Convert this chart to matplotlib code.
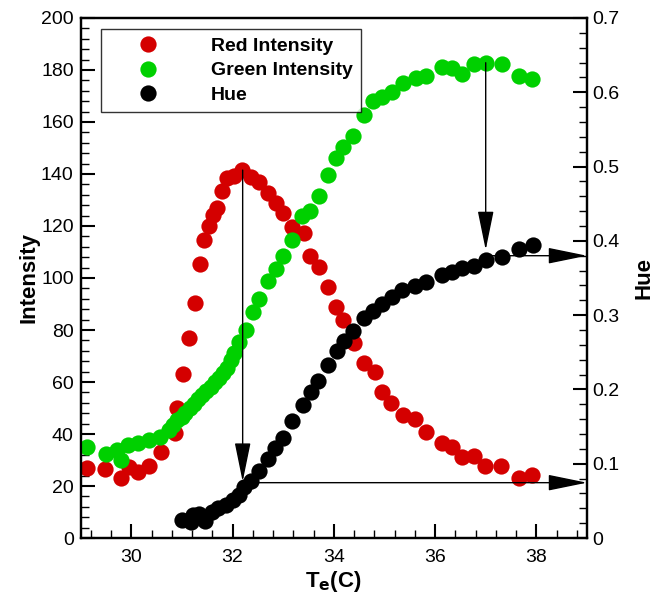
import matplotlib
matplotlib.use("Agg")
import matplotlib.pyplot as plt
from matplotlib.ticker import MultipleLocator, FixedLocator, FixedFormatter

plt.rcParams['font.family'] = ['Liberation Sans', 'DejaVu Sans']

# ---------------- data ----------------
red_T = [29.13, 29.49, 29.79, 29.95, 30.14, 30.35, 30.58, 30.86, 30.91, 31.03, 31.14,
         31.25, 31.36, 31.44, 31.54, 31.62, 31.69, 31.79, 31.90, 32.03, 32.18, 32.36,
         32.52, 32.71, 32.85, 32.99, 33.18, 33.41, 33.53, 33.70, 33.88, 34.05, 34.19,
         34.40, 34.60, 34.81, 34.96, 35.13, 35.36, 35.61, 35.83, 36.13, 36.33, 36.54,
         36.77, 36.99, 37.31, 37.66, 37.92]
red_I = [27.0, 26.4, 23.0, 27.4, 25.5, 27.8, 33.2, 40.3, 50.1, 63.0, 77.0,
         90.5, 105.5, 114.5, 119.9, 124.2, 126.8, 133.3, 138.3, 139.2, 141.5, 139.0,
         137.0, 132.8, 128.7, 124.9, 119.5, 117.2, 108.5, 104.3, 96.7, 89.0, 83.8,
         74.9, 67.4, 63.8, 56.3, 51.9, 47.3, 45.6, 40.7, 36.7, 34.9, 31.3,
         31.5, 27.7, 27.8, 23.0, 24.2]

green_T = [29.13, 29.51, 29.72, 29.79, 29.94, 30.14, 30.35, 30.57, 30.75, 30.83, 30.91,
           31.00, 31.07, 31.15, 31.24, 31.32, 31.40, 31.48, 31.57, 31.65, 31.73, 31.82,
           31.90, 31.97, 32.03, 32.13, 32.26, 32.40, 32.52, 32.70, 32.85, 33.00, 33.18,
           33.37, 33.53, 33.70, 33.88, 34.04, 34.18, 34.38, 34.60, 34.78, 34.96, 35.14,
           35.36, 35.62, 35.83, 36.13, 36.33, 36.54, 36.77, 37.00, 37.32, 37.66, 37.91]
green_I = [35.1, 32.3, 33.8, 30.0, 35.8, 36.7, 37.7, 39.0, 41.5, 43.5, 45.4,
           46.5, 48.0, 50.0, 51.5, 53.5, 55.0, 56.5, 58.0, 60.0, 61.5, 63.5,
           65.5, 68.5, 71.0, 75.3, 80.0, 87.0, 92.0, 98.9, 103.5, 108.4, 114.5,
           124.0, 125.7, 131.5, 139.6, 146.3, 150.4, 154.8, 162.5, 168.2, 169.5, 171.7,
           175.1, 176.8, 177.7, 181.3, 180.7, 178.5, 182.2, 182.8, 182.3, 177.8, 176.5]

hue_T = [31.01, 31.17, 31.21, 31.34, 31.46, 31.60, 31.72, 31.87, 32.01, 32.13, 32.23,
         32.36, 32.52, 32.70, 32.84, 32.99, 33.17, 33.39, 33.54, 33.68, 33.88, 34.06,
         34.20, 34.38, 34.60, 34.78, 34.95, 35.14, 35.35, 35.61, 35.83, 36.13, 36.33,
         36.54, 36.77, 37.00, 37.32, 37.66, 37.93]
hue_H = [0.024, 0.022, 0.031, 0.033, 0.023, 0.035, 0.040, 0.044, 0.051, 0.058, 0.069,
         0.077, 0.090, 0.106, 0.121, 0.135, 0.157, 0.179, 0.197, 0.211, 0.233, 0.252,
         0.265, 0.278, 0.296, 0.306, 0.315, 0.324, 0.334, 0.339, 0.344, 0.354, 0.358,
         0.363, 0.366, 0.374, 0.378, 0.389, 0.394]

x_ticks = [30, 32, 34, 36, 38]
x_tick_labels = ['30', '32', '34', '36', '38']
left_ticks = [0, 20, 40, 60, 80, 100, 120, 140, 160, 180, 200]
left_tick_labels = ['0', '20', '40', '60', '80', '100', '120', '140', '160', '180', '200']
right_ticks = [0, 0.1, 0.2, 0.3, 0.4, 0.5, 0.6, 0.7]
right_tick_labels = ['0', '0.1', '0.2', '0.3', '0.4', '0.5', '0.6', '0.7']

series_labels = ['Red Intensity', 'Green Intensity', 'Hue']

# arrows: vertical (x, top, tip) in intensity units ; horizontal at hue level
arrow1_x, arrow1_top, arrow1_tip = 32.2, 141.5, 21.7
arrow1_h_hue = 0.0745
arrow2_x, arrow2_top, arrow2_tip = 37.0, 182.8, 110.8
arrow2_h_hue = 0.380

# ---------------- figure ----------------
fig = plt.figure(figsize=(6.61, 5.99), dpi=100)
ax = fig.add_axes([0.122, 0.1018, 0.766, 0.8682])
ax2 = ax.twinx()

red_c = '#d40000'
green_c = '#00d000'
ms = 11.7

l1, = ax.plot(red_T, red_I, linestyle='none', marker='o', ms=ms, mew=0, color=red_c, zorder=2)
l2, = ax.plot(green_T, green_I, linestyle='none', marker='o', ms=ms, mew=0, color=green_c, zorder=3)
l3, = ax2.plot(hue_T, hue_H, linestyle='none', marker='o', ms=ms, mew=0, color='black', zorder=3)

ax.set_xlim(29, 39)
ax.set_ylim(0, 200)
ax2.set_ylim(0, 0.7)

ax.xaxis.set_major_locator(FixedLocator(x_ticks))
ax.xaxis.set_major_formatter(FixedFormatter(x_tick_labels))
ax.xaxis.set_minor_locator(MultipleLocator(0.4))
ax.yaxis.set_major_locator(FixedLocator(left_ticks))
ax.yaxis.set_major_formatter(FixedFormatter(left_tick_labels))
ax.yaxis.set_minor_locator(MultipleLocator(4))
ax2.yaxis.set_major_locator(FixedLocator(right_ticks))
ax2.yaxis.set_major_formatter(FixedFormatter(right_tick_labels))
ax2.yaxis.set_minor_locator(MultipleLocator(0.02))

for a in (ax, ax2):
    for s in a.spines.values():
        s.set_linewidth(1.6)
ax.tick_params(axis='both', which='major', direction='in', length=10, width=1.5, labelsize=14)
ax.tick_params(axis='both', which='minor', direction='in', length=5.5, width=1.0)
ax.tick_params(axis='y', which='both', right=False, pad=5)
ax.tick_params(axis='x', which='both', top=False, pad=8)
ax2.tick_params(axis='y', which='major', direction='in', length=10, width=1.5, labelsize=14, pad=4)
ax2.tick_params(axis='y', which='minor', direction='in', length=5.5, width=1.0)

ax.set_xlabel(r'T$_\mathbf{e}$(C)', fontsize=16, fontweight='bold', labelpad=2)
ax.set_ylabel('Intensity', fontsize=16, fontweight='bold', labelpad=1)
ax2.set_ylabel('Hue', fontsize=16, fontweight='bold', labelpad=10)

# arrows
arrow_style = '-|>,head_length=2.45,head_width=0.5'
ap = dict(arrowstyle=arrow_style, color='black', lw=1.0, shrinkA=0, shrinkB=0, mutation_scale=10)
ax.annotate('', xy=(arrow1_x, arrow1_tip), xytext=(arrow1_x, arrow1_top), arrowprops=ap, zorder=4)
ax.annotate('', xy=(arrow2_x, arrow2_tip), xytext=(arrow2_x, arrow2_top), arrowprops=ap, zorder=4)
ax2.annotate('', xy=(39, arrow1_h_hue), xytext=(arrow1_x, arrow1_h_hue), arrowprops=ap, zorder=1)
ax2.annotate('', xy=(39, arrow2_h_hue), xytext=(arrow2_x, arrow2_h_hue), arrowprops=ap, zorder=1)

leg = ax2.legend([l1, l2, l3], series_labels, loc='upper left', bbox_to_anchor=(0.0395, 0.979),
                 borderaxespad=0, frameon=True, fancybox=False, edgecolor='black',
                 prop={'weight': 'bold', 'size': 14}, borderpad=0.45, handlelength=4.0,
                 handletextpad=1.2, labelspacing=0.34, numpoints=1)
leg.get_frame().set_linewidth(1.0)

fig.savefig('out.png', dpi=100)
